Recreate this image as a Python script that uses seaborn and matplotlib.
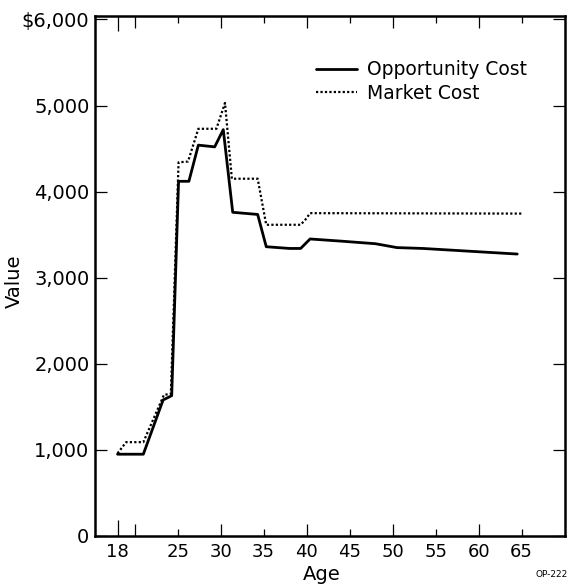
"""
Opportunity cost vs market cost by age.
Recreated chart, saved as out.png.
"""

import pandas as pd
import matplotlib
matplotlib.use("Agg")
import matplotlib.pyplot as plt
import seaborn as sns
from matplotlib.ticker import NullLocator

# ── Data ──────────────────────────────────────
OPP_AGE   = [18, 21, 23.3, 24.3, 25.1, 26.3, 27.4, 29.3, 30.3, 31.4, 34.3, 35.3,
             38.0, 39.3, 40.4, 44, 48, 50.5, 53.5, 64.5]
OPP_VALUE = [950, 950, 1580, 1630, 4120, 4120, 4540, 4520, 4720, 3760, 3735, 3360,
             3340, 3340, 3450, 3425, 3395, 3350, 3340, 3275]

MKT_AGE   = [18, 19, 21, 23.4, 24.2, 25.1, 26.2, 27.4, 29.5, 30.5, 31.3, 34.3,
             35.3, 39.3, 39.9, 40.4, 65]
MKT_VALUE = [960, 1090, 1090, 1640, 1650, 4340, 4350, 4730, 4730, 5030, 4150, 4150,
             3615, 3615, 3680, 3750, 3745]

X_MAJOR        = [18, 20, 30, 40, 50, 60]
X_MAJOR_LABELS = ["18", "", "30", "40", "50", "60"]
X_MINOR        = [25, 35, 45, 55, 65]
X_MINOR_LABELS = ["25", "35", "45", "55", "65"]
Y_TICKS        = [0, 1000, 2000, 3000, 4000, 5000, 6000]
Y_LABELS       = ["0", "1,000", "2,000", "3,000", "4,000", "5,000", "$6,000"]

# ── Style ─────────────────────────────────────
sns.set_style("ticks", {"axes.edgecolor": "black", "text.color": "black",
                        "axes.labelcolor": "black", "xtick.color": "black",
                        "ytick.color": "black"})
plt.rcParams["font.family"] = ["DejaVu Sans"]

fig = plt.figure(figsize=(5.7, 5.84), dpi=100)
ax = fig.add_axes([0.1667, 0.0822, 0.8246, 0.8904])

sns.lineplot(x=OPP_AGE, y=OPP_VALUE, color="black", linewidth=2.0,
             label="Opportunity Cost", ax=ax)
sns.lineplot(x=MKT_AGE, y=MKT_VALUE, color="black", linewidth=1.6,
             linestyle=(0, (1, 1)), label="Market Cost", ax=ax)

ax.set_xlim(15.38, 70.06)
ax.set_ylim(0, 6040)

ax.set_xticks(X_MAJOR)
ax.set_xticklabels(X_MAJOR_LABELS)
ax.set_xticks(X_MINOR, minor=True)
ax.set_xticklabels(X_MINOR_LABELS, minor=True)
ax.set_yticks(Y_TICKS)
ax.set_yticklabels(Y_LABELS)
ax.yaxis.set_minor_locator(NullLocator())

ax.tick_params(axis="x", which="major", direction="in", length=8.5, width=0.9,
               top=True, labelsize=13, pad=5, colors="black")
ax.tick_params(axis="x", which="minor", direction="in", length=5, width=0.9,
               top=True, labelsize=13, pad=5, colors="black")
ax.tick_params(axis="y", which="major", direction="in", length=8.5, width=0.9,
               right=True, labelsize=14, pad=4, colors="black")

# the age-18 tick is drawn longer than the rest
t18 = ax.xaxis.get_major_ticks()[0]
t18.tick1line.set_markersize(11.5)
t18.tick2line.set_markersize(11)

for side in ["left", "right", "top", "bottom"]:
    ax.spines[side].set_linewidth(1.8)
    ax.spines[side].set_color("black")
    ax.spines[side].set_visible(True)

ax.set_xlabel("Age", fontsize=14, color="black")
ax.set_ylabel("Value", fontsize=14, color="black")
ax.xaxis.set_label_coords(0.483, -0.055)
ax.yaxis.set_label_coords(-0.152, 0.49)

leg = ax.legend(loc="upper left", bbox_to_anchor=(0.47, 0.915), frameon=False,
                fontsize=13.5, handlelength=2.2, handletextpad=0.5,
                labelspacing=0.25, borderpad=0, borderaxespad=0)
for txt in leg.get_texts():
    txt.set_color("black")

fig.text(0.996, 0.008, "OP-222", ha="right", va="bottom", fontsize=6.5,
         color="black")

fig.savefig("out.png", dpi=100)
